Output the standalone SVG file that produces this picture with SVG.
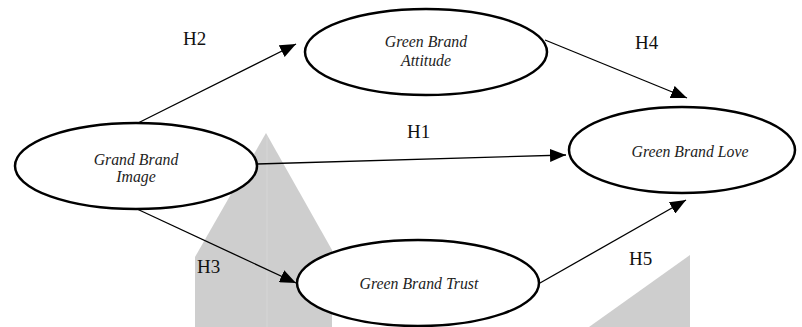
<svg xmlns="http://www.w3.org/2000/svg" width="802" height="327" viewBox="0 0 802 327">
<style>
.wm{fill:#cecece;stroke:none}
.node ellipse{fill:#fff;stroke:#000;stroke-width:2.5}
.node text{font-family:'Liberation Serif','DejaVu Serif',serif;font-style:italic;font-size:15.8px;fill:#222;text-anchor:middle}
.lbl{font-family:'Liberation Serif','DejaVu Serif',serif;font-size:19px;fill:#111}
.conn line{stroke:#000;stroke-width:1.3;marker-end:url(#ah)}
</style>
<defs>
<marker id="ah" markerUnits="userSpaceOnUse" markerWidth="16" markerHeight="13" refX="16" refY="6.5" orient="auto">
<path d="M0,0 L16,6.5 L0,13 Z" fill="#000"/>
</marker>
</defs>
<rect width="802" height="327" fill="#fff"/>
<g id="watermark">
<polygon class="wm" points="266,133 332,250 332,327 195,327 195,257"/>
<line x1="267" y1="136" x2="267" y2="327" stroke="#d6d6d6" stroke-width="1"/>
<polygon class="wm" points="690,255 690,327 589,327"/>
</g>
<g id="connectors" class="conn">
<line x1="138" y1="123" x2="296" y2="44"/>
<line x1="545" y1="40" x2="687" y2="98"/>
<line x1="257" y1="164" x2="566" y2="155"/>
<line x1="137" y1="209" x2="296" y2="283"/>
<line x1="540" y1="283" x2="686" y2="200"/>
</g>
<g id="labels">
<text class="lbl" x="183" y="45">H2</text>
<text class="lbl" x="635" y="49">H4</text>
<text class="lbl" x="407" y="138">H1</text>
<text class="lbl" x="197" y="273">H3</text>
<text class="lbl" x="629" y="265">H5</text>
</g>
<g id="grand-brand-image" class="node">
<ellipse cx="136" cy="166" rx="121" ry="43"/>
<text x="136" y="165">Grand Brand</text>
<text x="136" y="182">Image</text>
</g>
<g id="green-brand-attitude" class="node">
<ellipse cx="426" cy="52" rx="121" ry="43"/>
<text x="426" y="47">Green Brand</text>
<text x="426" y="66">Attitude</text>
</g>
<g id="green-brand-love" class="node">
<ellipse cx="682" cy="150" rx="113" ry="43"/>
<text x="690" y="157">Green Brand Love</text>
</g>
<g id="green-brand-trust" class="node">
<ellipse cx="418" cy="283" rx="121" ry="43"/>
<text x="419" y="289">Green Brand Trust</text>
</g>
</svg>
